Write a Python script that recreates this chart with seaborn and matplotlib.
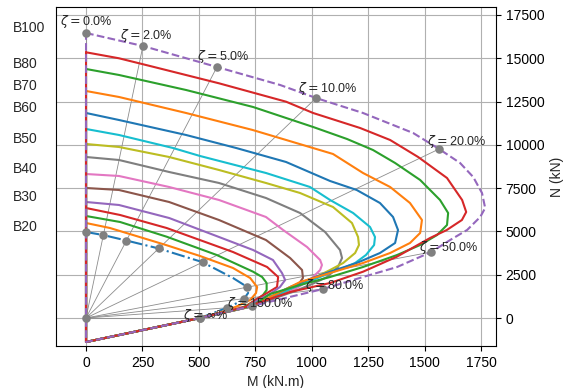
import numpy as np
import matplotlib
matplotlib.use("Agg")
import matplotlib.pyplot as plt
import matplotlib.transforms as mtransforms
import seaborn as sns

# ---------------- data (M in kN.m, N in kN) ----------------
grade_labels = ["B20", "", "", "", "B30", "", "B40", "", "B50", "", "B60", "B70", "B80", "", "B100"]

c01_M = [0, 75, 182, 319, 514, 651, 712, 718, 696, 651, 611]
c01_N = [4967, 4794, 4465, 4026, 3235, 2310, 1808, 1444, 1040, 751, 520]
c02_M = [0, 106, 208, 354, 505, 651, 727, 758, 753, 727, 673, 620]
c02_N = [5487, 5198, 4794, 4216, 3581, 2888, 2310, 1791, 1444, 1040, 700, 420]
c03_M = [0, 151, 357, 579, 740, 780, 800, 800, 784, 753, 715, 680]
c03_N = [5891, 5545, 4696, 3639, 2674, 2368, 2022, 1617, 1328, 1040, 750, 520]
c04_M = [0, 151, 357, 651, 802, 851, 846, 802, 749, 700]
c04_N = [6353, 5949, 5198, 3812, 2946, 2368, 1791, 1444, 1040, 580]
c05_M = [0, 146, 368, 589, 740, 828, 868, 882, 859, 815, 762, 720]
c05_N = [6700, 6527, 5776, 4679, 3928, 3350, 2599, 2195, 1791, 1386, 1040, 640]
c06_M = [0, 146, 368, 589, 797, 904, 957, 961, 939, 895, 837, 780, 730]
c06_N = [7509, 7393, 6700, 5660, 4505, 3466, 2772, 2310, 1906, 1560, 1213, 924, 660]
c07_M = [0, 146, 368, 589, 797, 873, 979, 1037, 1045, 1037, 992, 926, 859, 740]
c07_N = [8317, 8202, 7567, 6816, 5834, 5083, 4101, 3350, 3061, 2772, 2195, 1675, 1271, 680]
c08_M = [0, 146, 368, 589, 797, 948, 1059, 1125, 1134, 1116, 1068, 992, 926, 740]
c08_N = [9299, 9126, 8433, 7798, 6931, 6065, 4967, 3928, 3466, 2946, 2368, 1906, 1560, 690]
c09_M = [0, 146, 368, 589, 797, 948, 1094, 1178, 1205, 1209, 1192, 1139, 1081, 992, 904, 740]
c09_N = [10050, 9877, 9299, 8548, 7798, 7220, 6411, 5487, 4679, 4216, 3754, 3177, 2772, 2195, 1675, 700]
c10_M = [0, 146, 385, 505, 797, 992, 1081, 1183, 1258, 1280, 1276, 1240, 1192, 1139, 1081, 992, 904, 740]
c10_N = [10917, 10570, 9819, 9357, 8375, 7567, 6816, 6065, 5256, 4679, 4216, 3639, 3177, 2888, 2599, 2137, 1675, 705]
c11_M = [0, 146, 443, 665, 886, 1081, 1199, 1302, 1360, 1382, 1369, 1302, 1199, 1081, 992, 904, 740]
c11_N = [11841, 11436, 10570, 9819, 9011, 7913, 7393, 6642, 5834, 5083, 4332, 3754, 3177, 2674, 2253, 1791, 710]
c12_M = [0, 146, 443, 738, 1094, 1227, 1347, 1435, 1488, 1480, 1435, 1347, 1227, 1081, 948, 740]
c12_N = [13111, 12765, 11841, 10859, 9473, 8375, 7567, 6642, 5660, 4910, 4332, 3754, 3177, 2599, 2079, 715]
c13_M = [0, 146, 443, 740, 1006, 1156, 1271, 1369, 1480, 1568, 1604, 1599, 1555, 1480, 1378, 1227, 1081, 948, 815, 740]
c13_N = [14382, 14036, 13169, 12187, 11032, 10339, 9704, 8953, 7971, 6816, 6065, 5372, 4794, 4216, 3639, 2946, 2368, 1906, 1386, 730]
c14_M = [0, 146, 296, 589, 886, 1006, 1214, 1347, 1471, 1599, 1666, 1684, 1665, 1598, 1524, 1377, 1227, 1081, 904, 735]
c14_N = [15346, 15000, 14514, 13555, 12493, 11840, 10974, 10281, 9299, 8086, 6815, 6122, 5660, 5083, 4621, 3541, 2674, 2021, 1502, 740]
c15_M = [0, 252, 580, 860, 1019, 1227, 1449, 1564, 1657, 1715, 1754, 1768, 1746, 1688, 1613, 1529, 1378, 1227, 1050, 735]
c15_N = [16460, 15710, 14497, 13457, 12706, 11840, 10685, 9761, 8952, 8144, 7220, 6353, 5833, 5083, 4505, 3812, 2946, 2368, 1675, 693]

# common tension branch shared by every curve
tail_M = [505, 0]
tail_N = [0, -1386]

zeta_labels = ["0.0", "2.0", "5.0", "10.0", "20.0", "50.0", "80.0", "150.0", r"$\infty$"]
zeta_M = [0, 252, 580, 1019, 1564, 1529, 1050, 735, 505]
zeta_N = [16460, 15710, 14497, 12706, 9761, 3812, 1675, 693, 0]

xticks = [0, 250, 500, 750, 1000, 1250, 1500, 1750]
yticks = [0, 2500, 5000, 7500, 10000, 12500, 15000, 17500]

curves = [(c01_M, c01_N), (c02_M, c02_N), (c03_M, c03_N), (c04_M, c04_N), (c05_M, c05_N),
          (c06_M, c06_N), (c07_M, c07_N), (c08_M, c08_N), (c09_M, c09_N), (c10_M, c10_N),
          (c11_M, c11_N), (c12_M, c12_N), (c13_M, c13_N), (c14_M, c14_N), (c15_M, c15_N)]

# ---------------- style ----------------
sns.set_style("ticks", rc={"axes.edgecolor": "black", "grid.color": "#b0b0b0",
                           "xtick.color": "black", "ytick.color": "black",
                           "axes.linewidth": 0.8})
plt.rcParams["font.family"] = ["Liberation Sans", "DejaVu Sans"]
plt.rcParams["font.size"] = 10

fig = plt.figure(figsize=(5.71, 3.88), dpi=100)
ax = fig.add_axes([56 / 571, 42 / 388, 440 / 571, 339 / 388])

palette = sns.color_palette("tab10")

closed = []
for i, (Ms, Ns) in enumerate(curves):
    M = list(Ms) + tail_M + [Ms[0]]
    N = list(Ns) + tail_N + [Ns[0]]
    closed.append((np.array(M, float), np.array(N, float)))
    if i == 0:
        ls = "-."
    elif i == len(curves) - 1:
        ls = "--"
    else:
        ls = "-"
    sns.lineplot(x=M, y=N, sort=False, estimator=None, color=palette[i % 10],
                 linestyle=ls, linewidth=1.5, ax=ax, zorder=3)

# rays from origin to envelope points
for m, n in zip(zeta_M, zeta_N):
    ax.plot([0, m], [0, n], color="#8c8c8c", lw=0.6, zorder=2)


def ray_hit(m, n, Mc, Nc):
    d = np.array([m, n], float)
    for k in range(len(Mc) - 1):
        P = np.array([Mc[k], Nc[k]])
        Q = np.array([Mc[k + 1], Nc[k + 1]])
        e = Q - P
        A = np.array([[d[0], -e[0]], [d[1], -e[1]]])
        if abs(np.linalg.det(A)) < 1e-9:
            continue
        t, s = np.linalg.solve(A, P)
        if t > 1e-9 and -1e-9 <= s <= 1 + 1e-9:
            return t * d
    return None


hits = [ray_hit(m, n, *closed[0]) for m, n in zip(zeta_M, zeta_N)]
hx = [h[0] for h in hits if h is not None]
hy = [h[1] for h in hits if h is not None]

sns.scatterplot(x=zeta_M + hx + [0], y=zeta_N + hy + [0], color="#808080", s=38,
                linewidth=0, ax=ax, zorder=6)

for lab, m, n in zip(zeta_labels, zeta_M, zeta_N):
    ax.annotate(r"$\zeta = $" + lab + "%", xy=(m, n), xytext=(m * 1.05, n * 1.03 + 150),
                ha="center", va="center", fontsize=9, zorder=7)

# grade labels at left (positioned at each curve's squash load)
trans = mtransforms.blended_transform_factory(fig.transFigure, ax.transData)
for lab, (Ms, Ns) in zip(grade_labels, curves):
    if lab:
        ax.text(13 / 571, Ns[0] + 300, lab, transform=trans, ha="left", va="center", fontsize=10)

ax.set_xlim(-133, 1816)
ax.set_ylim(-1617, 17962)
ax.set_xticks(xticks)
ax.set_yticks(yticks)
ax.yaxis.tick_right()
ax.yaxis.set_label_position("right")
ax.tick_params(axis="y", left=False, right=True, labelleft=False, labelright=True, length=3.5, width=0.8)
ax.tick_params(axis="x", length=3.5, width=0.8)
ax.set_xlabel("M (kN.m)")
ax.set_ylabel("N (kN)")
ax.grid(True, color="#b0b0b0", lw=0.8)
ax.set_axisbelow(True)
for sp in ax.spines.values():
    sp.set_visible(True)
    sp.set_color("black")
    sp.set_linewidth(0.8)

fig.savefig("out.png", dpi=100)
